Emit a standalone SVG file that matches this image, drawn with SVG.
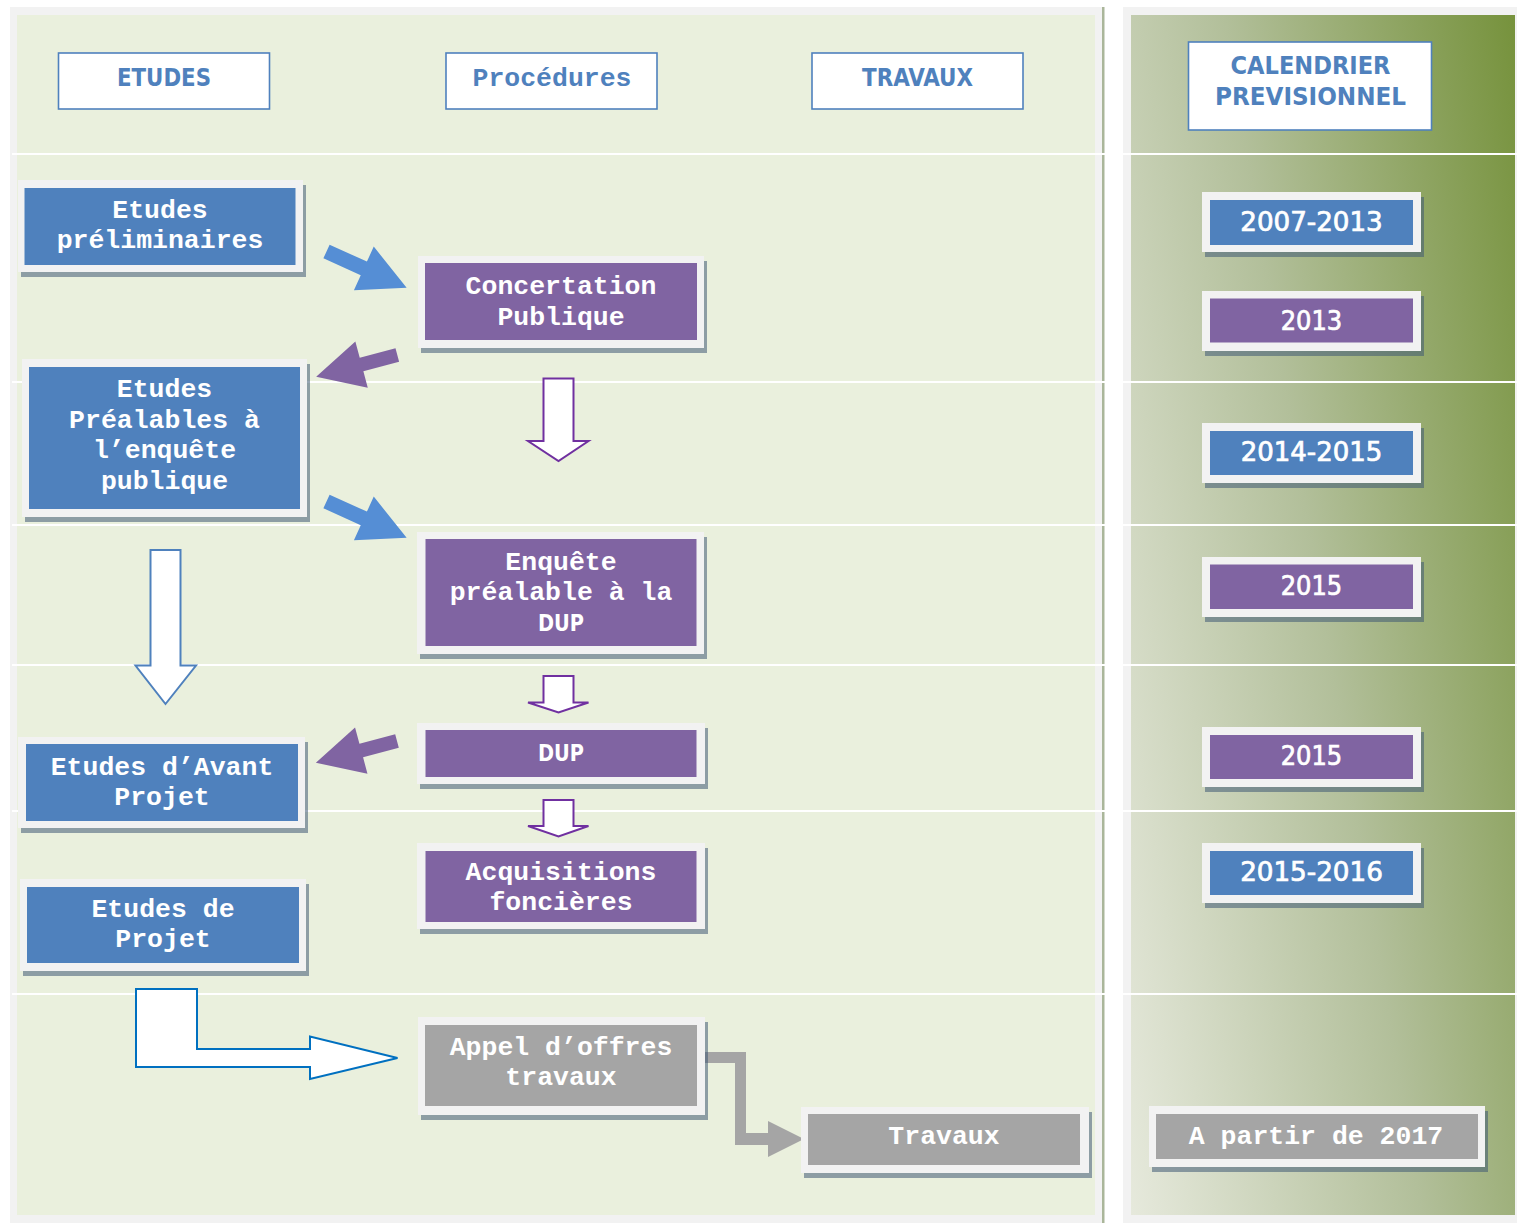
<svg xmlns="http://www.w3.org/2000/svg" width="1517" height="1223" viewBox="0 0 1517 1223">
<defs>
<style>
.frame{fill:#f2f2f2}
.shadow{fill:#3f5a75;opacity:.55}
.blue{fill:#4f81bd}
.purple{fill:#8064a2}
.grey{fill:#a5a5a5}
.hdrbox{fill:#ffffff;stroke:#4f81bd;stroke-width:1.6}
.mono{font-family:"Liberation Mono","DejaVu Sans Mono",monospace;font-size:26.5px;font-weight:bold;fill:#ffffff;text-anchor:middle}
.sans{font-family:"DejaVu Sans Condensed","DejaVu Sans",sans-serif;font-weight:bold;fill:#ffffff;text-anchor:middle}
.hdr{font-family:"DejaVu Sans Condensed","DejaVu Sans",sans-serif;font-weight:bold;font-size:24px;fill:#4f81bd;text-anchor:middle}
.hdrm{font-family:"Liberation Mono","DejaVu Sans Mono",monospace;font-weight:bold;font-size:26.5px;fill:#4f81bd;text-anchor:middle}
.year{font-family:"DejaVu Sans Condensed","DejaVu Sans",sans-serif;font-size:27px;font-weight:normal;fill:#ffffff;stroke:#ffffff;stroke-width:0.7;text-anchor:middle}
.rowline{stroke:#ffffff;stroke-width:2}
.arrow-blue{fill:#558ed5}
.arrow-purple{fill:#8064a2}
.hollow-p{fill:#ffffff;stroke:#7030a0;stroke-width:2}
.hollow-b{fill:#ffffff;stroke:#4f81bd;stroke-width:2}
.hollow-d{fill:#ffffff;stroke:#0070c0;stroke-width:2}
</style>
<linearGradient id="cal" gradientUnits="userSpaceOnUse" x1="1131" y1="1215" x2="1697" y2="1122">
<stop offset="0" stop-color="#e6e9dc"/>
<stop offset="0.5" stop-color="#b2bf9a"/>
<stop offset="1" stop-color="#76923c"/>
</linearGradient>
<polygon id="blueArrow" points="0,-7.5 41,-7.5 41,-24 88,0 41,24 41,7.5 0,7.5"/>
<polygon id="purpleArrow" points="0,-7 37,-7 37,-24 84,0 37,24 37,7 0,7"/>
</defs>

<g id="background">
<rect x="0" y="0" width="1517" height="1223" fill="#ffffff"/>
<rect x="10" y="7" width="1093" height="1216" fill="#f2f2f2"/>
<rect x="17" y="15" width="1078" height="1200" fill="#eaf0dd"/>
<rect x="1102" y="7" width="2.5" height="1216" fill="#aab69a"/>
<rect x="1123" y="7" width="394" height="1216" fill="#f2f2f2"/>
<rect x="1131" y="15" width="384" height="1200" fill="url(#cal)"/>
<line class="rowline" x1="12" y1="154" x2="1517" y2="154"/>
<line class="rowline" x1="12" y1="382" x2="1517" y2="382"/>
<line class="rowline" x1="12" y1="525" x2="1517" y2="525"/>
<line class="rowline" x1="12" y1="665" x2="1517" y2="665"/>
<line class="rowline" x1="12" y1="811" x2="1517" y2="811"/>
<line class="rowline" x1="12" y1="994" x2="1517" y2="994"/>
</g>

<g id="headers">
<g id="h-etudes"><rect class="hdrbox" x="58.5" y="53" width="211" height="56"/><text class="hdr" x="164" y="86" textLength="94" lengthAdjust="spacingAndGlyphs">ETUDES</text></g>
<g id="h-procedures"><rect class="hdrbox" x="446" y="53" width="211" height="56"/><text class="hdrm" x="552" y="86">Procédures</text></g>
<g id="h-travaux"><rect class="hdrbox" x="812" y="53" width="211" height="56"/><text class="hdr" x="917.5" y="86" textLength="111" lengthAdjust="spacingAndGlyphs">TRAVAUX</text></g>
<g id="h-calendrier"><rect class="hdrbox" x="1188.5" y="42" width="243" height="88"/><text class="hdr" x="1310.5" y="74" textLength="160" lengthAdjust="spacingAndGlyphs">CALENDRIER</text><text class="hdr" x="1310.5" y="105" textLength="191" lengthAdjust="spacingAndGlyphs">PREVISIONNEL</text></g>
</g>

<g id="connectors">
<use href="#blueArrow" class="arrow-blue" transform="translate(326.5,251.5) rotate(24.4)"/>
<use href="#blueArrow" class="arrow-blue" transform="translate(326.5,501.5) rotate(24.4)"/>
<use href="#purpleArrow" class="arrow-purple" transform="translate(397.3,355) rotate(165)"/>
<use href="#purpleArrow" class="arrow-purple" transform="translate(397,741) rotate(165)"/>
<path class="hollow-p" d="M543.5,378.5 H573.5 V441 H588.5 L558.5,461 L528,441 H543.5 Z"/>
<path class="hollow-b" d="M150.5,550 H180.5 V665.5 H196 L165.5,704 L135.5,665.5 H150.5 Z"/>
<path class="hollow-p" d="M543.5,676 H573.5 V702.5 H588.5 L558.5,712.5 L528,702.5 H543.5 Z"/>
<path class="hollow-p" d="M543.5,800 H573.5 V826 H588.5 L558.5,836.5 L528,826 H543.5 Z"/>
<path class="hollow-d" d="M136,989 H197 V1049 H310 V1036.5 L397.5,1058 L310,1079 V1067 H136 Z"/>
<path fill="#a5a5a5" d="M705,1052 H746 V1133 H768 V1121 L804,1139 L768,1157 V1145 H735 V1063 H705 Z"/>
</g>

<g id="n-etudes-preliminaires">
<rect class="shadow" x="21" y="185" width="285" height="92"/>
<rect class="frame" x="18" y="180" width="285" height="92"/>
<rect class="blue" x="24.5" y="188" width="271" height="77"/>
<text class="mono" x="160" y="218">Etudes</text>
<text class="mono" x="160" y="248">préliminaires</text>
</g>

<g id="n-concertation">
<rect class="shadow" x="421" y="261" width="286" height="92"/>
<rect class="frame" x="418" y="256" width="286" height="92"/>
<rect class="purple" x="425" y="263" width="272" height="77"/>
<text class="mono" x="561" y="294">Concertation</text>
<text class="mono" x="561" y="325">Publique</text>
</g>

<g id="n-etudes-prealables">
<rect class="shadow" x="25" y="364" width="285" height="158"/>
<rect class="frame" x="22" y="359" width="285" height="158"/>
<rect class="blue" x="29" y="367" width="271" height="142"/>
<text class="mono" x="164.5" y="397">Etudes</text>
<text class="mono" x="164.5" y="427.5">Préalables à</text>
<text class="mono" x="164.5" y="458">l’enquête</text>
<text class="mono" x="164.5" y="488.5">publique</text>
</g>

<g id="n-enquete">
<rect class="shadow" x="420" y="537" width="287" height="122"/>
<rect class="frame" x="417" y="532" width="287" height="122"/>
<rect class="purple" x="425.5" y="539" width="271" height="107"/>
<text class="mono" x="561" y="569.5">Enquête</text>
<text class="mono" x="561" y="600">préalable à la</text>
<text class="sans" x="561" y="631" font-size="22.5" textLength="46" lengthAdjust="spacingAndGlyphs">DUP</text>
</g>

<g id="n-avant-projet">
<rect class="shadow" x="21" y="742" width="287" height="91"/>
<rect class="frame" x="18" y="737" width="287" height="91"/>
<rect class="blue" x="26" y="744" width="272" height="77"/>
<text class="mono" x="162" y="775">Etudes d’Avant</text>
<text class="mono" x="162" y="805">Projet</text>
</g>

<g id="n-dup">
<rect class="shadow" x="420" y="728" width="288" height="61"/>
<rect class="frame" x="417" y="723" width="288" height="61"/>
<rect class="purple" x="425.5" y="730" width="271" height="47"/>
<text class="sans" x="561" y="761" font-size="23" textLength="46" lengthAdjust="spacingAndGlyphs">DUP</text>
</g>

<g id="n-acquisitions">
<rect class="shadow" x="420" y="848" width="288" height="86"/>
<rect class="frame" x="417" y="843" width="288" height="86"/>
<rect class="purple" x="425.5" y="851" width="271" height="71"/>
<text class="mono" x="561" y="880">Acquisitions</text>
<text class="mono" x="561" y="910">foncières</text>
</g>

<g id="n-etudes-projet">
<rect class="shadow" x="23" y="884" width="286" height="92"/>
<rect class="frame" x="20" y="879" width="286" height="92"/>
<rect class="blue" x="27" y="887" width="272" height="76"/>
<text class="mono" x="163" y="917">Etudes de</text>
<text class="mono" x="163" y="947">Projet</text>
</g>

<g id="n-appel-offres">
<rect class="shadow" x="421" y="1022" width="287" height="98"/>
<rect class="frame" x="418" y="1017" width="287" height="98"/>
<rect class="grey" x="425" y="1025" width="272" height="81"/>
<text class="mono" x="561" y="1055">Appel d’offres</text>
<text class="mono" x="561" y="1085">travaux</text>
</g>

<g id="n-travaux">
<rect class="shadow" x="804" y="1112" width="288" height="66"/>
<rect class="frame" x="801" y="1107" width="288" height="66"/>
<rect class="grey" x="808" y="1114" width="272" height="51"/>
<text class="mono" x="944" y="1144">Travaux</text>
</g>

<g id="y-2007-2013">
<rect class="shadow" x="1205" y="197" width="219" height="60"/>
<rect class="frame" x="1202" y="192" width="219" height="60"/>
<rect class="blue" x="1210" y="200" width="203" height="45"/>
<text class="year" x="1311.5" y="231" textLength="142.5" lengthAdjust="spacingAndGlyphs">2007-2013</text>
</g>

<g id="y-2013">
<rect class="shadow" x="1205" y="296" width="219" height="60"/>
<rect class="frame" x="1202" y="291" width="219" height="60"/>
<rect class="purple" x="1210" y="298.5" width="203" height="44"/>
<text class="year" x="1311.5" y="329.5" textLength="61.5" lengthAdjust="spacingAndGlyphs">2013</text>
</g>

<g id="y-2014-2015">
<rect class="shadow" x="1205" y="428" width="219" height="60"/>
<rect class="frame" x="1202" y="423" width="219" height="60"/>
<rect class="blue" x="1210" y="431" width="203" height="44"/>
<text class="year" x="1311.5" y="461" textLength="141.6" lengthAdjust="spacingAndGlyphs">2014-2015</text>
</g>

<g id="y-2015-a">
<rect class="shadow" x="1205" y="562" width="219" height="60"/>
<rect class="frame" x="1202" y="557" width="219" height="60"/>
<rect class="purple" x="1210" y="564.5" width="203" height="44.5"/>
<text class="year" x="1311.5" y="594.5" textLength="61.5" lengthAdjust="spacingAndGlyphs">2015</text>
</g>

<g id="y-2015-b">
<rect class="shadow" x="1205" y="732" width="219" height="60"/>
<rect class="frame" x="1202" y="727" width="219" height="60"/>
<rect class="purple" x="1210" y="735" width="203" height="44"/>
<text class="year" x="1311.5" y="765" textLength="61.5" lengthAdjust="spacingAndGlyphs">2015</text>
</g>

<g id="y-2015-2016">
<rect class="shadow" x="1205" y="848" width="219" height="60"/>
<rect class="frame" x="1202" y="843" width="219" height="60"/>
<rect class="blue" x="1210" y="851" width="203" height="44"/>
<text class="year" x="1311.5" y="881" textLength="142.7" lengthAdjust="spacingAndGlyphs">2015-2016</text>
</g>

<g id="y-2017">
<rect class="shadow" x="1152" y="1111" width="336" height="61"/>
<rect class="frame" x="1149" y="1106" width="336" height="61"/>
<rect class="grey" x="1156" y="1114" width="322" height="45"/>
<text class="mono" x="1316" y="1144">A partir de 2017</text>
</g>
</svg>
